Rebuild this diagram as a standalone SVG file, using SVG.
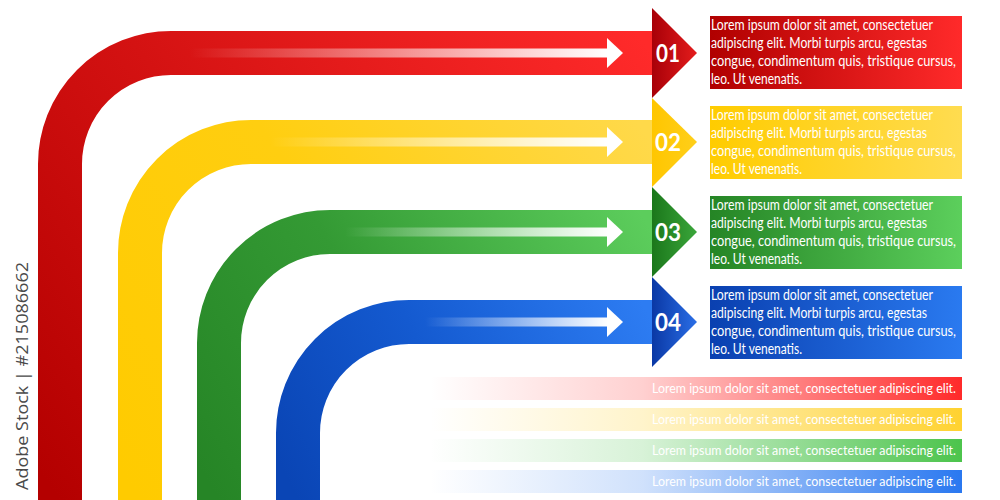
<svg xmlns="http://www.w3.org/2000/svg" width="1000" height="500" viewBox="0 0 1000 500">
<style>
.band{fill:none;stroke-width:44}
.num{font-family:Lato,"Open Sans",sans-serif;font-size:25px;font-weight:bold;fill:#fff;text-anchor:middle}
.txt{font-family:Lato,"Open Sans",sans-serif;font-size:14.5px;fill:#fff}
.small{font-family:Lato,"Open Sans",sans-serif;font-size:13px;fill:#fff;text-anchor:end}
.wm{font-family:"Open Sans","Liberation Sans",sans-serif;font-size:17px;fill:#4a4a4a}
</style>
<defs>
<linearGradient id="bR" gradientUnits="userSpaceOnUse" x1="60" y1="500" x2="652" y2="53"><stop offset="0" stop-color="#b40000"/><stop offset="0.45" stop-color="#d41212"/><stop offset="1" stop-color="#ff2a2a"/></linearGradient>
<linearGradient id="bY" gradientUnits="userSpaceOnUse" x1="140" y1="500" x2="652" y2="142"><stop offset="0" stop-color="#ffcb00"/><stop offset="0.5" stop-color="#ffce10"/><stop offset="1" stop-color="#ffd94a"/></linearGradient>
<linearGradient id="bG" gradientUnits="userSpaceOnUse" x1="219" y1="500" x2="652" y2="232"><stop offset="0" stop-color="#268526"/><stop offset="0.45" stop-color="#349a34"/><stop offset="1" stop-color="#5ccd5c"/></linearGradient>
<linearGradient id="bB" gradientUnits="userSpaceOnUse" x1="298" y1="500" x2="652" y2="322"><stop offset="0" stop-color="#0a45b5"/><stop offset="0.45" stop-color="#145ad0"/><stop offset="1" stop-color="#2d7cf2"/></linearGradient>
<linearGradient id="tR" x1="0" y1="0" x2="1" y2="0"><stop offset="0" stop-color="#a80008"/><stop offset="1" stop-color="#e41c1c"/></linearGradient>
<linearGradient id="tY" x1="0" y1="0" x2="1" y2="0"><stop offset="0" stop-color="#ffc600"/><stop offset="1" stop-color="#ffcf1a"/></linearGradient>
<linearGradient id="tG" x1="0" y1="0" x2="1" y2="0"><stop offset="0" stop-color="#1b771b"/><stop offset="1" stop-color="#3aa63a"/></linearGradient>
<linearGradient id="tB" x1="0" y1="0" x2="1" y2="0"><stop offset="0" stop-color="#0a38a5"/><stop offset="1" stop-color="#2a6ee6"/></linearGradient>
<linearGradient id="xR" x1="0" y1="0" x2="1" y2="0"><stop offset="0" stop-color="#b00000"/><stop offset="1" stop-color="#ff2a2a"/></linearGradient>
<linearGradient id="xY" x1="0" y1="0" x2="1" y2="0"><stop offset="0" stop-color="#ffcc00"/><stop offset="1" stop-color="#ffdc50"/></linearGradient>
<linearGradient id="xG" x1="0" y1="0" x2="1" y2="0"><stop offset="0" stop-color="#258525"/><stop offset="1" stop-color="#5ccf5c"/></linearGradient>
<linearGradient id="xB" x1="0" y1="0" x2="1" y2="0"><stop offset="0" stop-color="#0a40b0"/><stop offset="1" stop-color="#2a7af0"/></linearGradient>
<linearGradient id="sW" x1="0" y1="0" x2="1" y2="0"><stop offset="0" stop-color="#fff" stop-opacity="0"/><stop offset="1" stop-color="#fff" stop-opacity="1"/></linearGradient>
<linearGradient id="fR" gradientUnits="userSpaceOnUse" x1="430" y1="0" x2="962" y2="0"><stop offset="0" stop-color="#ff2a2a" stop-opacity="0"/><stop offset="0.4" stop-color="#ff2a2a" stop-opacity="0.22"/><stop offset="1" stop-color="#ff2a2a" stop-opacity="1"/></linearGradient>
<linearGradient id="fY" gradientUnits="userSpaceOnUse" x1="430" y1="0" x2="962" y2="0"><stop offset="0" stop-color="#ffd230" stop-opacity="0"/><stop offset="0.4" stop-color="#ffd230" stop-opacity="0.25"/><stop offset="1" stop-color="#ffd230" stop-opacity="1"/></linearGradient>
<linearGradient id="fG" gradientUnits="userSpaceOnUse" x1="430" y1="0" x2="962" y2="0"><stop offset="0" stop-color="#4cc44c" stop-opacity="0"/><stop offset="0.4" stop-color="#4cc44c" stop-opacity="0.22"/><stop offset="1" stop-color="#4cc44c" stop-opacity="1"/></linearGradient>
<linearGradient id="fB" gradientUnits="userSpaceOnUse" x1="430" y1="0" x2="962" y2="0"><stop offset="0" stop-color="#2a78f0" stop-opacity="0"/><stop offset="0.4" stop-color="#2a78f0" stop-opacity="0.22"/><stop offset="1" stop-color="#2a78f0" stop-opacity="1"/></linearGradient>
</defs>
<rect width="1000" height="500" fill="#fff"/>

<g id="connectors">
<path class="band" stroke="url(#bR)" d="M60,500 V164 A111,111 0 0 1 171,53 H653"/>
<path class="band" stroke="url(#bY)" d="M140,500 V253 A111,111 0 0 1 251,142 H653"/>
<path class="band" stroke="url(#bG)" d="M219,500 V343 A111,111 0 0 1 330,232 H653"/>
<path class="band" stroke="url(#bB)" d="M298,500 V433 A111,111 0 0 1 409,322 H653"/>
<rect x="190" y="48.5" width="418" height="9" fill="url(#sW)"/>
<polygon points="607,38 623,53 607,68" fill="#fff"/>
<rect x="270" y="137.5" width="338" height="9" fill="url(#sW)"/>
<polygon points="607,127 623,142 607,157" fill="#fff"/>
<rect x="345" y="227.5" width="263" height="9" fill="url(#sW)"/>
<polygon points="607,217 623,232 607,247" fill="#fff"/>
<rect x="425" y="317.5" width="183" height="9" fill="url(#sW)"/>
<polygon points="607,307 623,322 607,337" fill="#fff"/>
</g>

<g id="step1">
<polygon points="652,8 697,53 652,98" fill="url(#tR)"/>
<text class="num" x="668" y="62" textLength="24" lengthAdjust="spacingAndGlyphs">01</text>
<rect x="710" y="16" width="252" height="73" fill="url(#xR)"/>
<text class="txt"><tspan x="711" y="30" textLength="222" lengthAdjust="spacingAndGlyphs">Lorem ipsum dolor sit amet, consectetuer</tspan><tspan x="711" y="48" textLength="216" lengthAdjust="spacingAndGlyphs">adipiscing elit. Morbi turpis arcu, egestas</tspan><tspan x="711" y="66" textLength="245" lengthAdjust="spacingAndGlyphs">congue, condimentum quis, tristique cursus,</tspan><tspan x="711" y="84" textLength="91" lengthAdjust="spacingAndGlyphs">leo. Ut venenatis.</tspan></text>
</g>
<g id="step2">
<polygon points="652,98 697,142 652,187" fill="url(#tY)"/>
<text class="num" x="668" y="151" textLength="26" lengthAdjust="spacingAndGlyphs">02</text>
<rect x="710" y="106" width="252" height="73" fill="url(#xY)"/>
<text class="txt"><tspan x="711" y="120" textLength="222" lengthAdjust="spacingAndGlyphs">Lorem ipsum dolor sit amet, consectetuer</tspan><tspan x="711" y="138" textLength="216" lengthAdjust="spacingAndGlyphs">adipiscing elit. Morbi turpis arcu, egestas</tspan><tspan x="711" y="156" textLength="245" lengthAdjust="spacingAndGlyphs">congue, condimentum quis, tristique cursus,</tspan><tspan x="711" y="174" textLength="91" lengthAdjust="spacingAndGlyphs">leo. Ut venenatis.</tspan></text>
</g>
<g id="step3">
<polygon points="652,187 697,232 652,277" fill="url(#tG)"/>
<text class="num" x="668" y="241" textLength="26" lengthAdjust="spacingAndGlyphs">03</text>
<rect x="710" y="196" width="252" height="73" fill="url(#xG)"/>
<text class="txt"><tspan x="711" y="210" textLength="222" lengthAdjust="spacingAndGlyphs">Lorem ipsum dolor sit amet, consectetuer</tspan><tspan x="711" y="228" textLength="216" lengthAdjust="spacingAndGlyphs">adipiscing elit. Morbi turpis arcu, egestas</tspan><tspan x="711" y="246" textLength="245" lengthAdjust="spacingAndGlyphs">congue, condimentum quis, tristique cursus,</tspan><tspan x="711" y="264" textLength="91" lengthAdjust="spacingAndGlyphs">leo. Ut venenatis.</tspan></text>
</g>
<g id="step4">
<polygon points="652,277 697,322 652,367" fill="url(#tB)"/>
<text class="num" x="668" y="331" textLength="26" lengthAdjust="spacingAndGlyphs">04</text>
<rect x="710" y="286" width="252" height="73" fill="url(#xB)"/>
<text class="txt"><tspan x="711" y="300" textLength="222" lengthAdjust="spacingAndGlyphs">Lorem ipsum dolor sit amet, consectetuer</tspan><tspan x="711" y="318" textLength="216" lengthAdjust="spacingAndGlyphs">adipiscing elit. Morbi turpis arcu, egestas</tspan><tspan x="711" y="336" textLength="245" lengthAdjust="spacingAndGlyphs">congue, condimentum quis, tristique cursus,</tspan><tspan x="711" y="354" textLength="91" lengthAdjust="spacingAndGlyphs">leo. Ut venenatis.</tspan></text>
</g>

<g id="note1"><rect x="430" y="377" width="532" height="23" fill="url(#fR)"/><text class="small" x="956" y="393" textLength="304" lengthAdjust="spacingAndGlyphs">Lorem ipsum dolor sit amet, consectetuer adipiscing elit.</text></g>
<g id="note2"><rect x="430" y="408" width="532" height="23" fill="url(#fY)"/><text class="small" x="956" y="424" textLength="304" lengthAdjust="spacingAndGlyphs">Lorem ipsum dolor sit amet, consectetuer adipiscing elit.</text></g>
<g id="note3"><rect x="430" y="439" width="532" height="23" fill="url(#fG)"/><text class="small" x="956" y="455" textLength="304" lengthAdjust="spacingAndGlyphs">Lorem ipsum dolor sit amet, consectetuer adipiscing elit.</text></g>
<g id="note4"><rect x="430" y="470" width="532" height="23" fill="url(#fB)"/><text class="small" x="956" y="486" textLength="304" lengthAdjust="spacingAndGlyphs">Lorem ipsum dolor sit amet, consectetuer adipiscing elit.</text></g>

<text class="wm" transform="translate(28,490) rotate(-90)" textLength="228" lengthAdjust="spacingAndGlyphs">Adobe Stock | #215086662</text>
</svg>
